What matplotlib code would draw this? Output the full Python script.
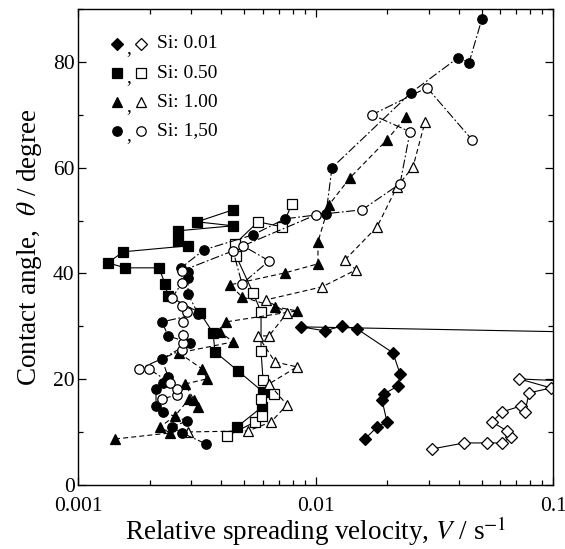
import matplotlib
matplotlib.use("Agg")
import matplotlib.pyplot as plt
from matplotlib.ticker import LogLocator, MultipleLocator, NullFormatter, FixedLocator, FixedFormatter

plt.rcParams['font.family'] = ['Liberation Serif', 'DejaVu Serif']
plt.rcParams['mathtext.fontset'] = 'stix'

# ---- Si: 0.01 ----
v_d_fill = [0.01616, 0.01816, 0.02000, 0.01905, 0.01943, 0.02225, 0.02269, 0.02120,
            0.01495, 0.01293, 0.01096, 0.00869, 0.3]
t_d_fill = [8.70, 10.97, 11.92, 16.08, 17.22, 18.73, 21.00, 24.98,
            29.52, 30.09, 29.14, 29.90, 28.6]
v_d_open = [0.03094, 0.04220, 0.05273, 0.06099, 0.06655, 0.06401, 0.05536, 0.06099,
            0.07334, 0.07624, 0.07926, 0.0981, 0.07192, 0.15]
t_d_open = [6.81, 7.95, 7.95, 7.95, 9.08, 10.22, 11.92, 13.81,
            14.95, 13.81, 17.41, 18.35, 20.06, 19.4]

# ---- Si: 0.50 ----
v_s_fill = [0.004672, 0.005953, 0.006011, 0.004718, 0.003775, 0.003703, 0.003264, 0.002393,
            0.002325, 0.002193, 0.001577, 0.001338, 0.001547, 0.002905, 0.002637, 0.002637,
            0.004494, 0.003170, 0.004494]
t_s_fill = [10.97, 14.76, 17.60, 21.57, 25.17, 28.76, 32.54, 35.76,
            38.03, 41.06, 41.06, 42.01, 44.09, 45.22, 46.17, 48.06,
            49.01, 49.76, 52.03]
v_s_open = [0.004240, 0.005563, 0.005953, 0.005896, 0.006688, 0.006011, 0.005896, 0.005896,
            0.005456, 0.004627, 0.004582, 0.005727, 0.007227, 0.007961]
t_s_open = [9.27, 11.92, 13.06, 16.27, 17.22, 19.87, 25.35, 32.73,
            36.33, 43.33, 45.60, 49.76, 48.82, 53.17]

# ---- Si: 1.00 ----
v_t_fill = [0.001432, 0.002440, 0.002214, 0.002561, 0.002933, 0.003201, 0.003078, 0.002822,
            0.003493, 0.003327, 0.002663, 0.004494, 0.003962, 0.004199, 0.008356, 0.006753,
            0.004904, 0.004365, 0.007441, 0.01024, 0.01024, 0.01140, 0.01397, 0.02000, 0.02405]
t_t_fill = [8.70, 9.84, 10.97, 13.06, 16.27, 14.76, 16.08, 19.11,
            20.06, 21.95, 24.98, 27.06, 28.95, 30.84, 32.92, 33.68,
            35.57, 37.84, 40.11, 41.82, 45.98, 52.98, 58.09, 65.28, 69.63]
v_t_open = [0.002905, 0.005196, 0.006496, 0.007586, 0.006371, 0.008356, 0.006753, 0.005727,
            0.006371, 0.007586, 0.006188, 0.01065, 0.01481, 0.01331, 0.01816, 0.02204,
            0.02574, 0.02891]
t_t_open = [10.03, 10.22, 11.92, 15.14, 19.11, 22.33, 23.27, 28.19,
            28.19, 32.54, 35.00, 37.46, 40.68, 42.57, 48.82, 56.39,
            60.17, 68.68]

# ---- Si: 1.50 ----
v_c_fill = [0.003459, 0.002741, 0.002488, 0.002876, 0.002280, 0.002130, 0.002130, 0.002280,
            0.002393, 0.002258, 0.002961, 0.002393, 0.002258, 0.003201, 0.002905, 0.002905,
            0.002905, 0.002714, 0.003392, 0.005456, 0.007441, 0.01107, 0.01173, 0.02524,
            0.03981, 0.04430, 0.05023]
t_c_fill = [7.76, 9.84, 10.97, 12.11, 13.81, 14.95, 18.16, 19.30,
            20.44, 23.84, 26.87, 28.19, 30.84, 32.36, 36.14, 39.17,
            40.30, 41.06, 44.47, 47.30, 50.33, 51.28, 59.98, 74.17,
            80.79, 79.85, 88.17]
v_c_open = [0.002258, 0.002611, 0.002611, 0.002440, 0.001990, 0.001806, 0.002741, 0.002768,
            0.002768, 0.002768, 0.002876, 0.002741, 0.002488, 0.002741, 0.002741, 0.004494,
            0.004904, 0.006371, 0.004951, 0.01005, 0.01570, 0.02269, 0.02500, 0.01729,
            0.02948, 0.04560]
t_c_open = [16.27, 17.03, 18.16, 19.30, 21.95, 21.95, 25.54, 26.87,
            28.38, 30.84, 32.73, 33.87, 35.38, 38.22, 40.49, 44.28,
            38.03, 42.38, 45.22, 51.09, 52.03, 56.95, 66.79, 70.01,
            75.12, 65.28]

legend_labels = ['Si: 0.01', 'Si: 0.50', 'Si: 1.00', 'Si: 1,50']

fig = plt.figure(figsize=(5.65, 5.49), dpi=100)
ax = fig.add_axes([0.1381, 0.1166, 0.8407, 0.867])

lw = 0.8
dash = (4.5, 2.8)
dashdot = (8, 2.2, 1.6, 2.2)

styles = [
    (v_d_fill, t_d_fill, 'D', 'black', None, 6.0),
    (v_d_open, t_d_open, 'D', 'white', None, 6.0),
    (v_s_fill, t_s_fill, 's', 'black', None, 6.6),
    (v_s_open, t_s_open, 's', 'white', None, 6.6),
    (v_t_fill, t_t_fill, '^', 'black', dash, 7.2),
    (v_t_open, t_t_open, '^', 'white', dash, 7.2),
    (v_c_fill, t_c_fill, 'o', 'black', dashdot, 6.8),
    (v_c_open, t_c_open, 'o', 'white', dashdot, 6.8),
]
for xs, ys, mk, fc, ds, ms in styles:
    line, = ax.plot(xs, ys, color='black', lw=lw, marker=mk, ms=ms,
                    mfc=fc, mec='black', mew=0.9)
    if ds is not None:
        line.set_dashes(ds)

ax.set_xscale('log')
ax.set_xlim(0.001, 0.1)
ax.set_ylim(0, 90)

ax.xaxis.set_major_locator(FixedLocator([0.001, 0.01, 0.1]))
ax.xaxis.set_major_formatter(FixedFormatter(['0.001', '0.01', '0.1']))
ax.xaxis.set_minor_locator(LogLocator(base=10, subs=range(2, 10)))
ax.xaxis.set_minor_formatter(NullFormatter())
ax.yaxis.set_major_locator(MultipleLocator(20))
ax.yaxis.set_minor_locator(MultipleLocator(10))

ax.tick_params(which='both', direction='in', top=True, right=True, width=0.9)
ax.tick_params(which='major', length=6, labelsize=15.5)
ax.tick_params(which='minor', length=3.4)
ax.tick_params(axis='y', pad=2.5)
ax.tick_params(axis='x', pad=8.5)
for sp in ax.spines.values():
    sp.set_linewidth(1.0)

ax.set_xlabel('Relative spreading velocity, $V$ / s$^{-1}$', fontsize=19.5, labelpad=-1)
ax.set_ylabel('Contact angle,  $\\theta$ / degree', fontsize=19.5, labelpad=6)

# key in the upper-left corner
key_markers = ['D', 's', '^', 'o']
key_sizes = [6.0, 6.6, 7.2, 6.8]
key_y = [0.9265, 0.8655, 0.8046, 0.7437]
for mk, ms, yy, lab in zip(key_markers, key_sizes, key_y, legend_labels):
    ax.plot([0.082], [yy], marker=mk, ms=ms, mfc='black', mec='black', mew=0.9,
            transform=ax.transAxes, clip_on=False, ls='none')
    ax.plot([0.133], [yy], marker=mk, ms=ms, mfc='white', mec='black', mew=0.9,
            transform=ax.transAxes, clip_on=False, ls='none')
    ax.text(0.101, yy - 0.010, ',', transform=ax.transAxes, fontsize=14,
            ha='left', va='center')
    ax.text(0.166, yy, lab, transform=ax.transAxes, fontsize=14,
            ha='left', va='center')

fig.savefig('out.png', dpi=100)
